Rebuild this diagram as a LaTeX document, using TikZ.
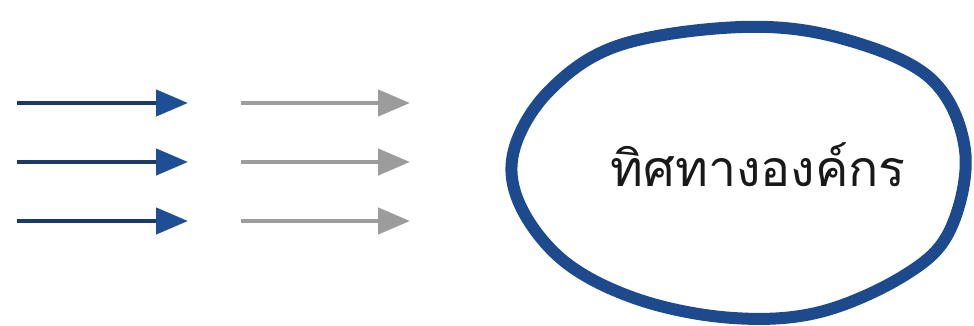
\documentclass[tikz,border=0pt]{standalone}
\usepackage{fontspec}
\newfontfamily\thaifont[Script=Thai]{Loma}
\usetikzlibrary{arrows.meta}
\definecolor{navy}{HTML}{1B3A6B}
\definecolor{headblue}{HTML}{1E4E93}
\definecolor{ringblue}{HTML}{1D4A8C}
\definecolor{softgray}{HTML}{9C9C9C}
\tikzset{
  darkarrow/.style={draw=navy, line width=4.5pt,
    -{Triangle[length=32pt,width=26pt,fill=headblue,color=headblue]}},
  grayarrow/.style={draw=softgray, line width=4.5pt,
    -{Triangle[length=32pt,width=26pt,fill=softgray,color=softgray]}},
  ring/.style={draw=ringblue, line width=12pt, line join=round},
  label/.style={font=\thaifont\fontsize{50}{60}\selectfont, text=black!90, inner sep=0pt}
}
\begin{document}
\begin{tikzpicture}[x=1pt,y=-1pt]
  \useasboundingbox (0,0) rectangle (974,326);
  % three pairs of arrows, dark then gray
  \foreach \i/\yy in {1/103,2/162,3/221}{
    \coordinate (d\i s) at (17,\yy);
    \coordinate (d\i e) at (188,\yy);
    \coordinate (g\i s) at (241,\yy);
    \coordinate (g\i e) at (410,\yy);
    \draw[darkarrow] (d\i s) -- (d\i e);
    \draw[grayarrow] (g\i s) -- (g\i e);
  }
  % hand-drawn outline around the label
  \draw[ring] plot[smooth cycle, tension=0.6] coordinates {
    (742,27) (840,38) (930,78) (965,150) (950,230) (905,275)
    (820,312) (733,318) (640,300) (565,262) (520,205) (514,150)
    (550,90) (620,45)};
  \node[label] (org) at (758,165) {ทิศทางองค์กร};
\end{tikzpicture}
\end{document}
